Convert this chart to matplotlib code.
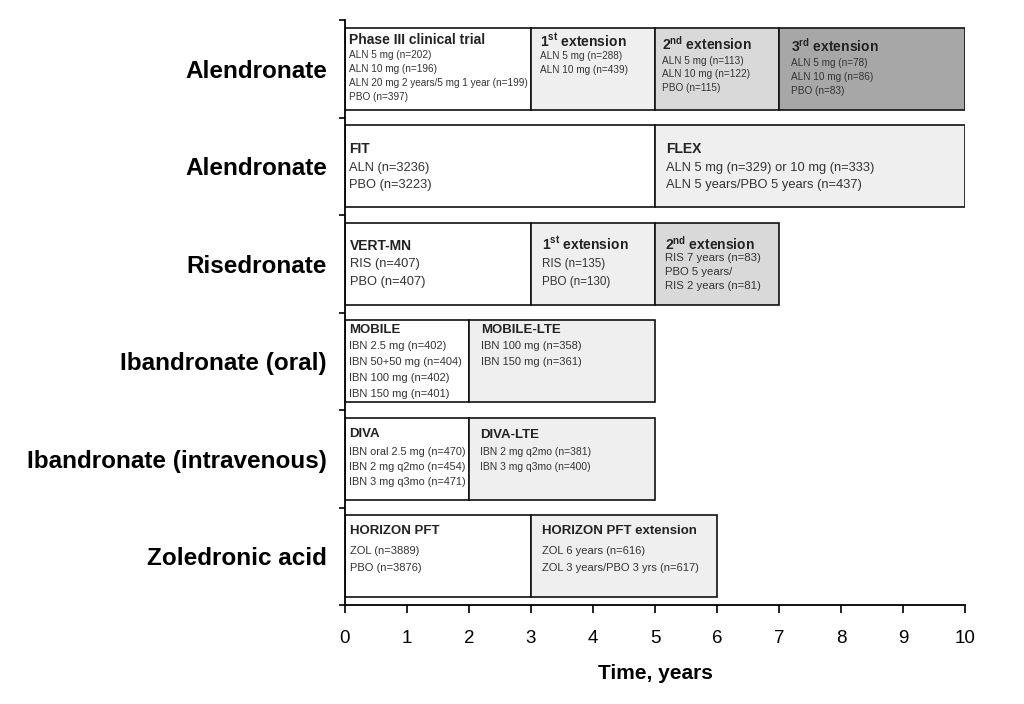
import matplotlib.pyplot as plt
from matplotlib.patches import Rectangle

plt.rcParams['font.family'] = ['Liberation Sans', 'DejaVu Sans']
plt.rcParams['mathtext.fontset'] = 'custom'
plt.rcParams['mathtext.rm'] = 'Liberation Sans'
plt.rcParams['mathtext.bf'] = 'Liberation Sans:bold'

# data
drugs = ["Alendronate", "Alendronate", "Risedronate", "Ibandronate (oral)",
         "Ibandronate (intravenous)", "Zoledronic acid"]

box_row = [0, 0, 0, 0, 1, 1, 2, 2, 2, 3, 3, 4, 4, 5, 5]
box_start = [0, 3, 5, 7, 0, 5, 0, 3, 5, 0, 2, 0, 2, 0, 3]
box_end = [3, 5, 7, 10, 5, 10, 3, 5, 7, 2, 5, 2, 5, 3, 6]
box_phase = [0, 1, 2, 3, 0, 1, 0, 1, 2, 0, 1, 0, 1, 0, 1]
box_title = [
    "Phase III clinical trial",
    r"$\mathbf{1^{st}}$ extension",
    r"$\mathbf{2^{nd}}$ extension",
    r"$\mathbf{3^{rd}}$ extension",
    "FIT", "FLEX", "VERT-MN",
    r"$\mathbf{1^{st}}$ extension",
    r"$\mathbf{2^{nd}}$ extension",
    "MOBILE", "MOBILE-LTE", "DIVA", "DIVA-LTE",
    "HORIZON PFT", "HORIZON PFT extension",
]
box_lines = [
    ["ALN 5 mg (n=202)", "ALN 10 mg (n=196)",
     "ALN 20 mg 2 years/5 mg 1 year (n=199)", "PBO (n=397)"],
    ["ALN 5 mg (n=288)", "ALN 10 mg (n=439)"],
    ["ALN 5 mg (n=113)", "ALN 10 mg (n=122)", "PBO (n=115)"],
    ["ALN 5 mg (n=78)", "ALN 10 mg (n=86)", "PBO (n=83)"],
    ["ALN (n=3236)", "PBO (n=3223)"],
    ["ALN 5 mg (n=329) or 10 mg (n=333)", "ALN 5 years/PBO 5 years (n=437)"],
    ["RIS (n=407)", "PBO (n=407)"],
    ["RIS (n=135)", "PBO (n=130)"],
    ["RIS 7 years (n=83)", "PBO 5 years/", "RIS 2 years (n=81)"],
    ["IBN 2.5 mg (n=402)", "IBN 50+50 mg (n=404)", "IBN 100 mg (n=402)",
     "IBN 150 mg (n=401)"],
    ["IBN 100 mg (n=358)", "IBN 150 mg (n=361)"],
    ["IBN oral 2.5 mg (n=470)", "IBN 2 mg q2mo (n=454)", "IBN 3 mg q3mo (n=471)"],
    ["IBN 2 mg q2mo (n=381)", "IBN 3 mg q3mo (n=400)"],
    ["ZOL (n=3889)", "PBO (n=3876)"],
    ["ZOL 6 years (n=616)", "ZOL 3 years/PBO 3 yrs (n=617)"],
]
xticks = list(range(0, 11))

# styles
phase_colors = ["white", "#efefef", "#d9d9d9", "#a7a7a7"]
pad_px = [4, 9, 7, 12, 4, 11, 5, 11, 10, 4, 12, 4, 11, 5, 11]
title_px = [12, 13, 16, 18, 24, 24, 23, 21, 21, 10, 10, 16, 17, 16, 16]
first_px = [27, 28, 33, 35, 43, 43, 41, 41, 35, 26, 26, 34, 34, 36, 36]
step_px = [14, 14, 13.5, 14, 17, 17, 18, 18, 14, 15.7, 16, 15, 15, 17, 17]
title_fs = [10, 10, 10, 10, 10, 10, 10, 10, 10, 9.5, 9.5, 9.5, 9.5, 9.5, 9.5]
text_fs = [7.2, 7.2, 7.2, 7.2, 9.3, 9.3, 9.3, 8.4, 8.2, 8, 8, 7.8, 7.5, 8, 8]

PX = 0.72  # points per pixel at dpi 100
box_off = 0.082
box_h = 0.84

fig = plt.figure(figsize=(10.24, 7.04), dpi=100)
ax = fig.add_axes([345 / 1024, 99 / 704, 620 / 1024, 585 / 704])

for i in range(len(box_row)):
    top = box_row[i] + box_off
    ax.add_patch(Rectangle((box_start[i], top), box_end[i] - box_start[i], box_h,
                           facecolor=phase_colors[box_phase[i]], edgecolor="#111111",
                           linewidth=1.2, zorder=2))
    ax.annotate(box_title[i], xy=(box_start[i], top), xycoords="data",
                xytext=(pad_px[i] * PX, -title_px[i] * PX), textcoords="offset points",
                ha="left", va="center", fontsize=title_fs[i], fontweight="bold",
                color="#222222", zorder=3)
    for k, line in enumerate(box_lines[i]):
        ax.annotate(line, xy=(box_start[i], top), xycoords="data",
                    xytext=(pad_px[i] * PX, -(first_px[i] + k * step_px[i]) * PX),
                    textcoords="offset points", ha="left", va="center",
                    fontsize=text_fs[i], color="#333333", zorder=3)

ax.set_xlim(0, 10)
ax.set_ylim(6, 0)

ax.spines["top"].set_visible(False)
ax.spines["right"].set_visible(False)
ax.spines["left"].set_linewidth(1.3)
ax.spines["bottom"].set_linewidth(1.3)

ax.set_xticks(xticks)
ax.set_xticklabels([str(t) for t in xticks], fontsize=13.5)
ax.tick_params(axis="x", direction="out", length=6, width=1.2, pad=12)

ax.set_yticks(range(0, 7))
ax.set_yticklabels([])
ax.tick_params(axis="y", which="major", direction="out", length=4, width=1.2)
ax.set_yticks([r + 0.5 for r in range(len(drugs))], minor=True)
ax.set_yticklabels(drugs, minor=True, fontsize=17.5, fontweight="bold")
ax.tick_params(axis="y", which="minor", length=0, pad=13)

ax.set_xlabel("Time, years", fontsize=15, fontweight="bold", labelpad=12)

fig.savefig("out.png", dpi=100)
